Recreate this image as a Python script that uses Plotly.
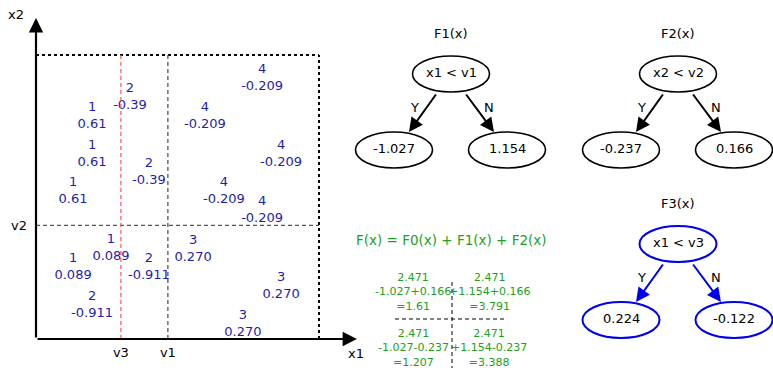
import plotly.graph_objects as go

# ---------------- data ----------------
# feature-space positions of the training samples (x1, x2 scaled to 0..1)
point_x1 = [0.799, 0.332, 0.198, 0.597, 0.198, 0.866, 0.399, 0.131, 0.664,
            0.799, 0.265, 0.555, 0.131, 0.399, 0.866, 0.198, 0.731]
point_x2 = [0.917, 0.850, 0.783, 0.783, 0.650, 0.650, 0.586, 0.519, 0.519,
            0.452, 0.319, 0.315, 0.252, 0.252, 0.185, 0.118, 0.051]
point_region = [4, 2, 1, 4, 1, 4, 2, 1, 4, 4, 1, 3, 1, 2, 3, 2, 3]
point_residual = ["-0.209", "-0.39", "0.61", "-0.209", "0.61", "-0.209", "-0.39",
                  "0.61", "-0.209", "-0.209", "0.089", "0.270", "0.089", "-0.911",
                  "0.270", "-0.911", "0.270"]

split_v1 = 0.466   # x1 split of F1
split_v2 = 0.400   # x2 split of F2
split_v3 = 0.300   # x1 split of F3

tree_titles = ["F1(x)", "F2(x)", "F3(x)"]
tree_rules = ["x1 < v1", "x2 < v2", "x1 < v3"]
tree_leaf_yes = [-1.027, -0.237, 0.224]
tree_leaf_no = [1.154, 0.166, -0.122]
f0_value = 2.471
formula_text = "F(x) = F0(x) + F1(x) + F2(x)"

# ---------------- layout constants ----------------
W, H = 773, 368
FONT = "DejaVu Sans"
BLUE_TXT = "#1e1ea8"
GREEN = "#22a022"

PX_LEFT, PX_BOTTOM, UNIT_W, UNIT_H, EXT = 36, 339, 283, 284, 1.14

fig = go.Figure()

# invisible trace on the pixel canvas axes
fig.add_trace(go.Scatter(x=[0, W], y=[0, H], mode="markers",
                         marker=dict(opacity=0), hoverinfo="skip",
                         showlegend=False, xaxis="x", yaxis="y"))

# sample points (region id + residual)
fig.add_trace(go.Scatter(
    x=point_x1, y=point_x2, mode="text",
    text=[f"{r}<br>{v}" for r, v in zip(point_region, point_residual)],
    textfont=dict(family=FONT, size=13, color=BLUE_TXT),
    textposition="middle center", cliponaxis=False, showlegend=False,
    hoverinfo="skip", xaxis="x2", yaxis="y2"))

shapes = []
annotations = []


def seg(x0, y0, x1, y1, color, width, dash, ref=("x2", "y2")):
    shapes.append(dict(type="line", xref=ref[0], yref=ref[1], x0=x0, y0=y0,
                       x1=x1, y1=y1, line=dict(color=color, width=width, dash=dash)))


# feature-space box and split lines
seg(0, 1, 1, 1, "black", 2, "3px,3px")
seg(1, 0, 1, 1, "black", 2, "3px,3px")
seg(0, split_v2, 1, split_v2, "#555555", 1.3, "4px,3px")
seg(split_v1, 0, split_v1, 1, "#555555", 1.3, "4px,3px")
seg(split_v3, 0, split_v3, 1, "#ff5555", 1.2, "4px,3px")

# axis arrows
for hx, hy in [(1.134, 0), (0, 1.13)]:
    annotations.append(dict(xref="x2", yref="y2", axref="x2", ayref="y2",
                            x=hx, y=hy, ax=0, ay=0, text="", showarrow=True,
                            arrowhead=2, arrowsize=1.3, arrowwidth=2.2,
                            arrowcolor="black", standoff=0, startstandoff=0))


def label(x, y, text, size=13, color="black", ref=("x", "y")):
    annotations.append(dict(xref=ref[0], yref=ref[1], x=x, y=y, text=text,
                            showarrow=False, xanchor="center", yanchor="middle",
                            font=dict(family=FONT, size=size, color=color)))


label(16, 14, "x2")
label(356, 353, "x1")

# trees
tree_pos = [(451, 33), (678, 33), (678, 203)]
tree_colors = ["black", "black", "#0000ee"]
RX, RY = 38.5, 18
for i, (cx, ty) in enumerate(tree_pos):
    col = tree_colors[i]
    lw = 2 if col != "black" else 1.6
    ry_root, ry_leaf = ty + 41, ty + 117
    label(cx, ty, tree_titles[i])
    nodes = [(cx, ry_root, tree_rules[i].replace("<", "&lt;")),
             (cx - 57, ry_leaf, f"{tree_leaf_yes[i]:.3f}"),
             (cx + 56, ry_leaf, f"{tree_leaf_no[i]:.3f}")]
    for nx, ny, t in nodes:
        shapes.append(dict(type="circle", xref="x", yref="y",
                           x0=nx - RX, x1=nx + RX, y0=ny - RY, y1=ny + RY,
                           line=dict(color=col, width=lw)))
        label(nx, ny - 2, t)
    for sx, ex, lab, lx in [(cx - 14, cx - 42, "Y", cx - 37),
                            (cx + 14, cx + 43, "N", cx + 38)]:
        annotations.append(dict(xref="x", yref="y", axref="x", ayref="y",
                                x=ex, y=ry_leaf - 18, ax=sx, ay=ry_root + 19,
                                text="", showarrow=True, arrowhead=2, arrowsize=1.4,
                                arrowwidth=2, arrowcolor=col, standoff=0))
        label(lx, ry_root + 33, lab)

# additive model summary
label(451, 240, formula_text, size=13.5, color=GREEN)
cells = [(413, 292, tree_leaf_yes[0], tree_leaf_no[1], False),
         (489, 292, tree_leaf_no[0], tree_leaf_no[1], True),
         (413, 348, tree_leaf_yes[0], tree_leaf_yes[1], False),
         (489, 348, tree_leaf_no[0], tree_leaf_yes[1], True)]
for x, y, a, b, signed in cells:
    tot = round(f0_value + a + b, 3)
    first = f"{a:+.3f}" if signed else f"{a:.3f}"
    label(x, y, f"{f0_value}<br>{first}{b:+.3f}<br>={tot:g}", size=11, color=GREEN)
seg(395, 319, 505, 319, "black", 1, "4px,3px", ref=("x", "y"))
seg(452, 282, 452, 368, "black", 1, "4px,3px", ref=("x", "y"))

fig.update_layout(
    width=W, height=H, margin=dict(l=0, r=0, t=0, b=0),
    paper_bgcolor="white", plot_bgcolor="rgba(0,0,0,0)",
    shapes=shapes, annotations=annotations,
    xaxis=dict(range=[0, W], domain=[0, 1], visible=False, fixedrange=True),
    yaxis=dict(range=[H, 0], domain=[0, 1], visible=False, fixedrange=True),
    xaxis2=dict(range=[0, EXT],
                domain=[PX_LEFT / W, (PX_LEFT + UNIT_W * EXT) / W],
                anchor="y2", showgrid=False, zeroline=False, showline=False,
                tickvals=[split_v3, split_v1], ticktext=["v3", "v1"], ticks="",
                ticklabelstandoff=4,
                tickfont=dict(family=FONT, size=13, color="black")),
    yaxis2=dict(range=[0, EXT],
                domain=[(H - PX_BOTTOM) / H, (H - PX_BOTTOM + UNIT_H * EXT) / H],
                anchor="x2", showgrid=False, zeroline=False, showline=False,
                tickvals=[split_v2], ticktext=["v2"], ticks="",
                ticklabelstandoff=8,
                tickfont=dict(family=FONT, size=13, color="black")),
)

fig.write_html("out.html", config={"displayModeBar": False},
               post_script="document.body.style.margin='0';"
                           "document.body.style.overflow='hidden';")
